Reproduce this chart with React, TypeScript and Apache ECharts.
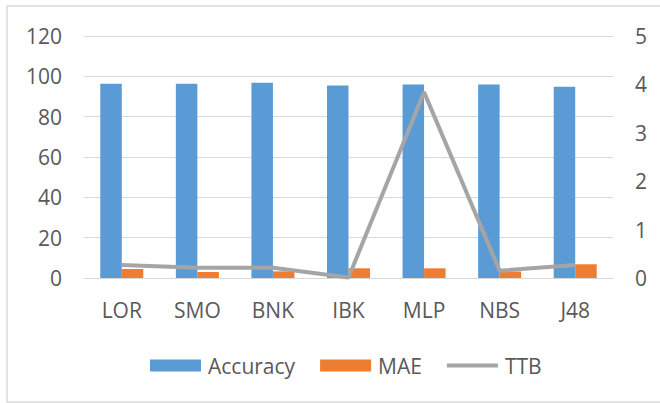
import React, { useEffect, useRef } from "react";
import * as echarts from "echarts";

const categories = ["LOR", "SMO", "BNK", "IBK", "MLP", "NBS", "J48"];
const accuracy = [96.3, 96.3, 96.8, 95.4, 96.0, 96.0, 94.8];
const mae = [4.5, 3.0, 3.3, 4.8, 4.8, 3.2, 6.8];
const ttb = [0.27, 0.21, 0.21, 0.01, 3.84, 0.15, 0.27];
const leftTicks = [0, 20, 40, 60, 80, 100, 120];
const rightTicks = [0, 1, 2, 3, 4, 5];

export default function App() {
  const ref = useRef<HTMLDivElement>(null);
  useEffect(() => {
    if (!ref.current) return;
    const chart = echarts.init(ref.current, null, { renderer: "svg" });
    const font = "'Open Sans', sans-serif";
    const textColor = "#595959";
    chart.setOption({
      animation: false,
      textStyle: { fontFamily: font },
      graphic: [
        {
          type: "rect",
          shape: { x: 7, y: 6, width: 660, height: 396 },
          style: { fill: "none", stroke: "#d9d9d9", lineWidth: 1.5 },
          silent: true,
        },
      ],
      grid: { left: 84, right: 47, top: 36, bottom: 125, containLabel: false },
      legend: {
        top: 350,
        left: 145,
        itemWidth: 51,
        itemHeight: 12,
        itemGap: 25,
        symbolKeepAspect: true,
        textStyle: { color: textColor, fontSize: 21, fontFamily: font, padding: [0, 0, 0, 2] },
        data: [
          { name: "Accuracy", icon: "rect" },
          { name: "MAE", icon: "rect" },
          { name: "TTB", icon: "path://M0,0L51,0L51,4L0,4Z", itemStyle: { color: "#a5a5a5" } },
        ],
      },
      xAxis: {
        type: "category",
        data: categories,
        axisLine: { show: true, lineStyle: { color: "#d9d9d9", width: 1 } },
        axisTick: { show: false },
        axisLabel: { color: textColor, fontSize: 21, fontFamily: font, margin: 21 },
      },
      yAxis: [
        {
          type: "value",
          min: leftTicks[0],
          max: leftTicks[leftTicks.length - 1],
          interval: 20,
          axisLine: { show: false },
          axisTick: { show: false },
          splitLine: { lineStyle: { color: "#d9d9d9", width: 1 } },
          axisLabel: { color: textColor, fontSize: 21, fontFamily: font, margin: 22 },
        },
        {
          type: "value",
          min: rightTicks[0],
          max: rightTicks[rightTicks.length - 1],
          interval: 1,
          axisLine: { show: false },
          axisTick: { show: false },
          splitLine: { show: false },
          axisLabel: { color: textColor, fontSize: 21, fontFamily: font, margin: 22 },
        },
      ],
      series: [
        {
          name: "Accuracy",
          type: "bar",
          data: accuracy,
          barWidth: 21.5,
          barGap: "0%",
          itemStyle: { color: "#5b9bd5" },
        },
        {
          name: "MAE",
          type: "bar",
          data: mae,
          barWidth: 21.5,
          barGap: "0%",
          itemStyle: { color: "#ed7d31" },
        },
        {
          name: "TTB",
          type: "line",
          yAxisIndex: 1,
          data: ttb,
          symbol: "none",
          lineStyle: { color: "#a5a5a5", width: 4 },
          itemStyle: { color: "#a5a5a5" },
        },
      ],
    });
    return () => chart.dispose();
  }, []);
  return <div ref={ref} style={{ width: 660, height: 403, position: "absolute", left: 0, top: 0 }} />;
}
